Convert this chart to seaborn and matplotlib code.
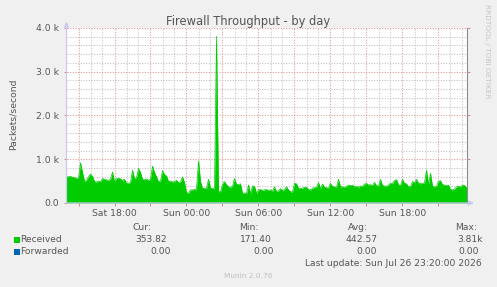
import numpy as np
import pandas as pd
import matplotlib
matplotlib.use("Agg")
import matplotlib.pyplot as plt
import matplotlib.dates as mdates
from matplotlib.ticker import FixedLocator, MultipleLocator, FuncFormatter
from matplotlib.patches import Rectangle
import seaborn as sns

# ---------------- data ----------------
title = "Firewall Throughput - by day"
y_label = "Packets/second"
start_time = "2026-07-25 14:00"
end_time = "2026-07-26 23:20"
step = "10min"

# Received packets/second, 10-minute samples, Sat 14:00 .. Sun 23:20
received = [
    600, 600, 610, 590, 580, 570,        # Sat 14
    560, 920, 700, 490, 520, 600,        # Sat 15
    660, 610, 490, 480, 500, 490,        # Sat 16
    560, 540, 530, 520, 540, 710,        # Sat 17
    490, 560, 570, 550, 520, 540,        # Sat 18
    460, 450, 470, 750, 560, 580,        # Sat 19
    790, 700, 540, 530, 550, 520,        # Sat 20
    540, 845, 700, 600, 490, 500,        # Sat 21
    740, 650, 620, 490, 500, 480,        # Sat 22
    490, 520, 470, 480, 600, 470,        # Sat 23
    240, 220, 300, 300, 310, 320,        # Sun 00
    960, 490, 340, 330, 340, 540,        # Sun 01
    340, 330, 350, 3810, 260, 260,       # Sun 02
    430, 490, 420, 370, 360, 380,        # Sun 03
    560, 430, 420, 440, 220, 230,        # Sun 04
    210, 410, 220, 390, 380, 220,        # Sun 05
    300, 310, 290, 300, 310, 290,        # Sun 06
    300, 270, 370, 260, 280, 330,        # Sun 07
    280, 310, 370, 300, 260, 250,        # Sun 08
    450, 440, 340, 330, 340, 360,        # Sun 09
    360, 310, 300, 340, 350, 360,        # Sun 10
    465, 330, 435, 360, 350, 340,        # Sun 11
    450, 380, 370, 360, 540, 370,        # Sun 12
    370, 360, 380, 410, 400, 410,        # Sun 13
    370, 380, 360, 390, 380, 430,        # Sun 14
    450, 410, 420, 400, 470, 400,        # Sun 15
    380, 540, 400, 390, 380, 410,        # Sun 16
    450, 440, 520, 530, 420, 400,        # Sun 17
    540, 450, 440, 370, 380, 490,        # Sun 18
    460, 540, 450, 440, 450, 460,        # Sun 19
    750, 420, 680, 380, 370, 380,        # Sun 20
    500, 510, 420, 410, 400, 410,        # Sun 21
    310, 300, 320, 370, 380, 370,        # Sun 22
    410, 400, 354,                       # Sun 23
]
forwarded_value = 0.0

series_names = ["Received", "Forwarded"]
series_colors = ["#00CC00", "#0066B3"]
stat_headers = ["Cur:", "Min:", "Avg:", "Max:"]
received_stats = ["353.82", "171.40", "442.57", "3.81k"]
forwarded_stats = ["0.00", "0.00", "0.00", "0.00"]
y_ticks = [0, 1000, 2000, 3000, 4000]
y_tick_labels = ["0.0", "1.0 k", "2.0 k", "3.0 k", "4.0 k"]
last_update = "Last update: Sun Jul 26 23:20:00 2026"
footer = "Munin 2.0.76"
watermark = "RRDTOOL / TOBI OETIKER"

# ---------------- styling ----------------
W, H = 497, 287
BG = "#F0F0F0"
TXT = "#555555"

sns.set_theme(style="white")
plt.rcParams["font.family"] = ["DejaVu Sans"]

times = pd.date_range(start_time, periods=len(received), freq=step)
df = pd.DataFrame({"time": times, "Received": received,
                   "Forwarded": [forwarded_value] * len(received)})

fig = plt.figure(figsize=(W / 100, H / 100), dpi=100, facecolor=BG)


def fx(px):
    return px / W


def fy(py):
    return 1 - py / H


ax = fig.add_axes([fx(66.5), fy(203), 400 / W, 175 / H])
ax.set_facecolor("white")

ax.fill_between(df["time"], df["Received"], 0, color=series_colors[0], lw=0, zorder=3)
sns.lineplot(data=df, x="time", y="Received", color=series_colors[0], lw=0.5, ax=ax, zorder=3)
sns.lineplot(data=df, x="time", y="Forwarded", color=series_colors[1], lw=0.5, ax=ax, zorder=2)

ax.set_xlim(pd.Timestamp(start_time), pd.Timestamp(end_time))
ax.set_ylim(y_ticks[0], y_ticks[-1])
ax.set_xlabel("")
ax.set_ylabel("")

# ticks & grid
ax.yaxis.set_major_locator(FixedLocator(y_ticks))
ax.set_yticklabels(y_tick_labels)
ax.yaxis.set_minor_locator(MultipleLocator(200))
ax.xaxis.set_major_locator(mdates.HourLocator(byhour=range(0, 24, 3)))
ax.xaxis.set_minor_locator(mdates.HourLocator())
_dfmt = mdates.DateFormatter("%a %H:%M")
ax.xaxis.set_major_formatter(FuncFormatter(
    lambda v, p: _dfmt(v, p) if mdates.num2date(v).hour % 6 == 0 else ""))

ax.grid(which="minor", color="#c4c4c4", linestyle=(0, (1, 1.4)), lw=0.8, zorder=0)
ax.grid(which="major", color="#e29a9a", linestyle=(0, (1, 1.4)), lw=0.8, zorder=1)
ax.set_axisbelow(True)

ax.tick_params(axis="both", which="major", colors="#e08080", labelcolor=TXT,
               labelsize=6.7, length=2, width=0.7, direction="out")
ax.tick_params(axis="y", which="major", pad=3.2, right=True, left=True)
ax.tick_params(axis="x", which="major", pad=2.6, bottom=True)
ax.tick_params(which="minor", length=0)

for s in ["top", "left", "bottom"]:
    ax.spines[s].set_visible(False)
ax.spines["right"].set_color("#8c8c8c")
ax.spines["right"].set_linewidth(0.8)

# axis arrows
axis_col = "#c9c9f2"
ax.annotate("", xy=(0, 1.036), xytext=(0, 0), xycoords="axes fraction",
            arrowprops=dict(arrowstyle="-|>", color=axis_col, lw=0.9,
                            mutation_scale=7, shrinkA=0, shrinkB=0),
            annotation_clip=False, zorder=5)
ax.annotate("", xy=(1.0185, 0), xytext=(0, 0), xycoords="axes fraction",
            arrowprops=dict(arrowstyle="-|>", color=axis_col, lw=0.9,
                            mutation_scale=7, shrinkA=0, shrinkB=0),
            annotation_clip=False, zorder=5)

# titles
fig.text(fx(248.5), fy(21), title, ha="center", va="center", fontsize=8.3, color=TXT)
fig.text(fx(13), fy(114.5), y_label, ha="center", va="center", rotation=90,
         fontsize=6.7, color=TXT)
fig.text(fx(487), fy(51), watermark, ha="center", va="center", rotation=270,
         fontsize=5.3, color="#c4c4c4")

# legend block
fs = 6.6
header_x = [142, 249, 357.5, 466]
for hx, h in zip(header_x, stat_headers):
    fig.text(fx(hx), fy(228), h, ha="center", va="center", fontsize=fs, color=TXT)

rows_y = [239.5, 251.5]
rec_right = [167, 272, 378, 483]
fwd_right = [171, 274, 377, 479]
for ry, name, col, vals, rights in zip(rows_y, series_names, series_colors,
                                       [received_stats, forwarded_stats],
                                       [rec_right, fwd_right]):
    fig.add_artist(Rectangle((fx(14), fy(ry + 3)), 6 / W, 6 / H,
                             transform=fig.transFigure, facecolor=col,
                             edgecolor="none"))
    fig.text(fx(20.5), fy(ry), name, ha="left", va="center", fontsize=fs, color=TXT)
    for r, v in zip(rights, vals):
        fig.text(fx(r), fy(ry), v, ha="right", va="center", fontsize=fs, color=TXT)

fig.text(fx(482), fy(263), last_update, ha="right", va="center", fontsize=fs, color=TXT)
fig.text(fx(248.5), fy(275.5), footer, ha="center", va="center", fontsize=5.3,
         color="#c0c0c0")

fig.savefig("out.png", dpi=100, facecolor=BG)
